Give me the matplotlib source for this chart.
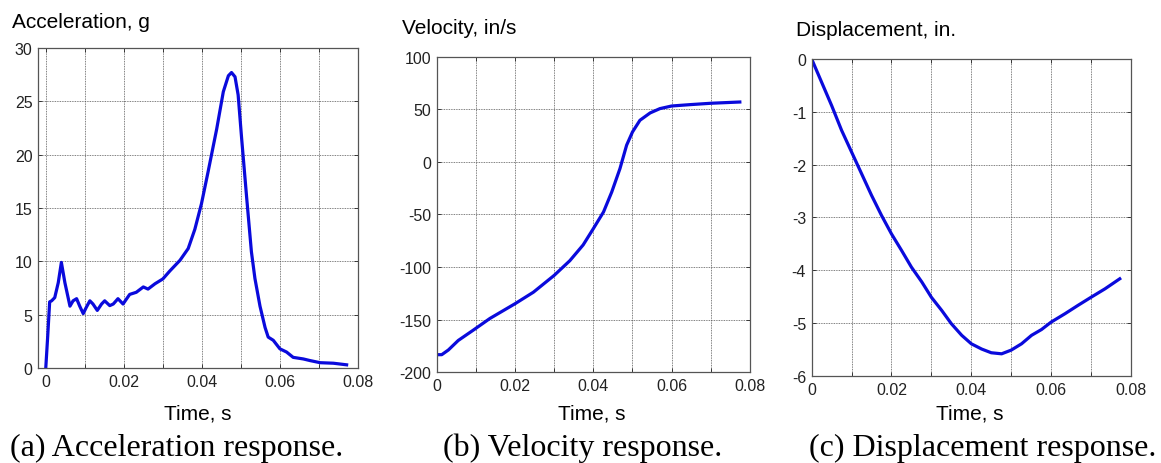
import matplotlib.pyplot as plt

plt.rcParams['font.family'] = ['Liberation Sans', 'DejaVu Sans']

# acceleration (g) vs time (s)
acc_t = [0, 0.0005, 0.001, 0.0015, 0.0023, 0.0032, 0.004, 0.0049, 0.0062, 0.007, 0.0079,
         0.0087, 0.0096, 0.0104, 0.0113, 0.0121, 0.0132, 0.0143, 0.0151, 0.0164, 0.0173,
         0.0185, 0.0198, 0.0215, 0.0232, 0.025, 0.0262, 0.028, 0.030, 0.0318, 0.0344,
         0.0365, 0.0382, 0.0399, 0.0416, 0.0438, 0.0455, 0.0468, 0.0476, 0.0485,
         0.0493, 0.0502, 0.0515, 0.0527, 0.0536, 0.0549, 0.0562, 0.057, 0.0583, 0.060,
         0.0617, 0.0634, 0.066, 0.0677, 0.0703, 0.0737, 0.0771]
acc_g = [0, 3.0, 6.2, 6.3, 6.6, 8.0, 9.9, 8.0, 5.8, 6.3, 6.5,
         5.8, 5.1, 5.7, 6.3, 6.0, 5.4, 6.0, 6.3, 5.85, 6.0,
         6.5, 6.0, 6.9, 7.1, 7.6, 7.4, 7.9, 8.35, 9.1, 10.1,
         11.2, 13.0, 15.4, 18.4, 22.4, 25.9, 27.4, 27.7, 27.3,
         25.6, 21.5, 15.9, 10.9, 8.4, 5.8, 3.8, 2.9, 2.6, 1.8,
         1.5, 1.0, 0.85, 0.7, 0.5, 0.45, 0.3]

# velocity (in/s)
vel_t = [0, 0.0013, 0.003, 0.0055, 0.0094, 0.0136, 0.020, 0.0247, 0.030, 0.034, 0.0374,
         0.040, 0.0426, 0.0447, 0.0468, 0.0485, 0.050, 0.0519, 0.0545, 0.057, 0.060,
         0.0647, 0.070, 0.0774]
vel_v = [-183.5, -183.5, -179, -170, -160, -149, -135, -124, -108, -94, -79,
         -63.5, -47.6, -28.6, -6.3, 16, 28.6, 39.7, 46.7, 50.8, 53.3,
         54.6, 55.9, 57.1]

# displacement (in.)
dis_t = [0, 0.0025, 0.005, 0.0075, 0.01, 0.0125, 0.015, 0.0175, 0.020, 0.0225, 0.025,
         0.0276, 0.030, 0.0326, 0.035, 0.0376, 0.040, 0.0426, 0.045, 0.0476, 0.050,
         0.0526, 0.0551, 0.0576, 0.060, 0.0635, 0.0668, 0.070, 0.0735, 0.0772]
dis_d = [0, -0.44, -0.88, -1.35, -1.76, -2.17, -2.58, -2.96, -3.31, -3.62, -3.94,
         -4.22, -4.51, -4.76, -5.01, -5.23, -5.39, -5.49, -5.56, -5.58, -5.51,
         -5.39, -5.23, -5.12, -4.98, -4.82, -4.66, -4.51, -4.35, -4.16]

fig = plt.figure(figsize=(11.61, 4.64), dpi=100)

panels = [
    dict(rect=[0.0327, 0.2047, 0.2756, 0.6897], t=acc_t, y=acc_g, xlim=(-0.002, 0.08),
         ylim=(0, 30), yticks=[0, 5, 10, 15, 20, 25, 30], ylab='Acceleration, g',
         ylab_xy=(12, 22), xlab_xy=(198, 414), cap='(a) Acceleration response.', cap_x=177),
    dict(rect=[0.3761, 0.1961, 0.2699, 0.679], t=vel_t, y=vel_v, xlim=(0, 0.08),
         ylim=(-200, 100), yticks=[-200, -150, -100, -50, 0, 50, 100], ylab='Velocity, in/s',
         ylab_xy=(402, 28), xlab_xy=(592, 414), cap='(b) Velocity response.', cap_x=583),
    dict(rect=[0.6991, 0.1875, 0.275, 0.6832], t=dis_t, y=dis_d, xlim=(0, 0.08),
         ylim=(-6, 0), yticks=[-6, -5, -4, -3, -2, -1, 0], ylab='Displacement, in.',
         ylab_xy=(796, 31), xlab_xy=(970, 414), cap='(c) Displacement response.', cap_x=983),
]

W, H = 1161, 464
for p in panels:
    ax = fig.add_axes(p['rect'])
    ax.plot(p['t'], p['y'], color='#0a0adc', linewidth=2.3)
    ax.set_xlim(*p['xlim'])
    ax.set_ylim(*p['ylim'])
    ax.set_xticks([0, 0.01, 0.02, 0.03, 0.04, 0.05, 0.06, 0.07, 0.08])
    ax.set_xticklabels(['0', '', '0.02', '', '0.04', '', '0.06', '', '0.08'])
    ax.set_yticks(p['yticks'])
    ax.set_yticklabels([str(v) for v in p['yticks']])
    ax.tick_params(direction='in', length=3, width=0.6, labelsize=11.5, top=True, right=True,
                   pad=4, colors='#222222')
    ax.grid(True, linestyle=(0, (1, 1)), color='#555555', linewidth=0.6)
    for s in ax.spines.values():
        s.set_linewidth(0.9)
        s.set_color('#555555')
    fig.text(p['ylab_xy'][0] / W, 1 - p['ylab_xy'][1] / H, p['ylab'], fontsize=15,
             ha='left', va='center')
    fig.text(p['xlab_xy'][0] / W, 1 - p['xlab_xy'][1] / H, 'Time, s', fontsize=15,
             ha='center', va='center')
    fig.text(p['cap_x'] / W, 1 - 448 / H, p['cap'], fontsize=23, ha='center', va='center',
             family=['Liberation Serif', 'DejaVu Serif'])

fig.savefig('out.png', dpi=100)
